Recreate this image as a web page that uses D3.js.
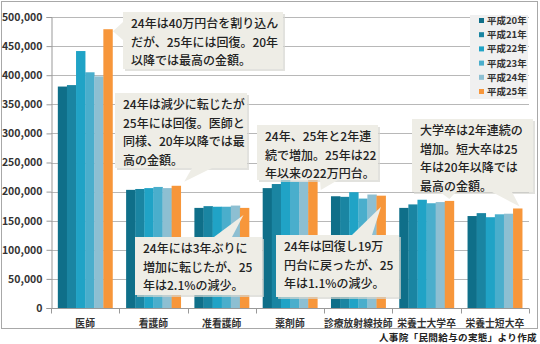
<!DOCTYPE html>
<html><head><meta charset="utf-8">
<script src="https://cdn.jsdelivr.net/npm/d3@7"></script>
<style>
html,body{margin:0;padding:0;background:#fff;}
svg text{font-family:"Noto Sans CJK JP","Noto Sans",sans-serif;}
</style></head>
<body><svg id="c" width="540" height="344"></svg>
<script>
const categories = ["医師","看護師","准看護師","薬剤師","診療放射線技師","栄養士大学卒","栄養士短大卒"];
const seriesNames = ["平成20年","平成21年","平成22年","平成23年","平成24年","平成25年"];
const h20 = [380500, 203000, 172000, 206000, 192000, 172000, 158000];
const h21 = [383000, 204500, 175000, 213000, 191000, 178000, 163000];
const h22 = [441500, 206000, 174000, 222000, 199000, 186000, 156000];
const h23 = [405000, 208000, 174000, 217000, 188000, 180000, 161000];
const h24 = [398000, 206000, 176000, 217000, 195000, 182000, 162000];
const h25 = [479000, 210000, 172000, 227000, 193000, 184000, 171000];
const seriesValues = [h20,h21,h22,h23,h24,h25];
const colors = ["#0f6f89","#1a85a2","#20a3c6","#4aaecc","#8dbfd2","#f7963a"];
const yTicks = [0,50000,100000,150000,200000,250000,300000,350000,400000,450000,500000];
const notes = [
  {lines:["24年は40万円台を割り込ん","だが、25年には回復。20年","以降では最高の金額。"]},
  {lines:["24年は減少に転じたが","25年には回復。医師と","同様、20年以降では最","高の金額。"]},
  {lines:["24年、25年と2年連","続で増加。25年は22","年以来の22万円台。"]},
  {lines:["大学卒は2年連続の","増加。短大卒は25","年は20年以降では","最高の金額。"]},
  {lines:["24年には3年ぶりに","増加に転じたが、25","年は2.1%の減少。"]},
  {lines:["24年は回復し19万","円台に戻ったが、25","年は1.1%の減少。"]}
];
const source = "人事院「民間給与の実態」より作成";

const svg = d3.select("#c");
svg.append("rect").attr("x",1.5).attr("y",1.5).attr("width",536).attr("height",327)
  .attr("fill","#fff").attr("stroke","#a8a8a8");

const pL=51, pR=529, pT=17, pB=308;
const y = d3.scaleLinear().domain([0,500000]).range([pB,pT]);
const x0 = d3.scaleBand().domain(categories).range([pL,pR]).paddingInner(0.2).paddingOuter(0.1);
const x1 = d3.scaleBand().domain(seriesNames).range([0,x0.bandwidth()]);

svg.append("g").selectAll("line").data(yTicks.slice(1)).join("line")
  .attr("x1",pL).attr("x2",pR).attr("y1",d=>Math.round(y(d))+0.5).attr("y2",d=>Math.round(y(d))+0.5)
  .attr("stroke","#b8b8b8").attr("stroke-width",1);

const ya = svg.append("g").attr("transform",`translate(${pL+0.5},0)`)
  .call(d3.axisLeft(y).tickValues(yTicks).tickSize(5).tickFormat(d3.format(",")));
ya.select(".domain").attr("stroke","#999");
ya.selectAll(".tick line").attr("stroke","#999");
ya.selectAll("text").attr("font-size","10.5px").attr("font-weight","bold").attr("fill","#333").attr("dx","-1");

const groups = svg.append("g").selectAll("g").data(categories).join("g")
  .attr("transform",d=>`translate(${x0(d)},0)`);
groups.selectAll("rect").data((c,i)=>seriesNames.map((s,j)=>({s,j,v:seriesValues[j][i]}))).join("rect")
  .attr("x",d=>x1(d.s)).attr("width",x1.bandwidth()+0.3)
  .attr("y",d=>y(d.v)).attr("height",d=>pB-y(d.v))
  .attr("fill",d=>colors[d.j]);

const xa = svg.append("g").attr("transform",`translate(0,${pB+0.5})`);
xa.append("line").attr("x1",pL).attr("x2",pR).attr("stroke","#999");
const step = x0.step();
const bounds = d3.range(categories.length+1).map(i=>pL + i*step);
xa.selectAll("line.t").data(bounds).join("line").attr("class","t")
  .attr("x1",d=>Math.round(d)+0.5).attr("x2",d=>Math.round(d)+0.5).attr("y1",0).attr("y2",5).attr("stroke","#999");
xa.selectAll("text").data(categories).join("text")
  .attr("x",d=>x0(d)+x0.bandwidth()/2).attr("y",18).attr("text-anchor","middle")
  .attr("font-size","9.8px").attr("font-weight","bold").attr("fill","#333").text(d=>d);

const lg = svg.append("g");
lg.append("rect").attr("x",470).attr("y",15).attr("width",58).attr("height",84).attr("fill","#f0f0f0");
seriesNames.forEach((s,i)=>{
  lg.append("rect").attr("x",479).attr("y",18+i*14.2).attr("width",5).attr("height",5).attr("fill",colors[i]);
  lg.append("text").attr("x",487).attr("y",24+i*14.2).attr("font-size","9.5px").attr("font-weight","bold").attr("fill","#333").text(s);
});

function bx(ci,si){ return x0(categories[ci])+x1(seriesNames[si])+x1.bandwidth()/2; }
function by(ci,si){ return y(seriesValues[si][ci]); }
const boxes = [
  {x:123,y:12,w:160,h:57, ptr:[[123,22],[123,40],[bx(0,5)+5,by(0,5)+2]]},
  {x:115,y:93,w:132,h:75, ptr:[[192,168],[212,168],[bx(1,5)+8,by(1,5)-4]]},
  {x:257,y:125,w:121,h:55, ptr:[[320,180],[338,180],[bx(3,5)+8,by(3,5)+14]]},
  {x:412,y:119,w:121,h:73, ptr:[[440,192],[456,192],[bx(5,5),by(5,5)-2], [492,192],[512,192],[bx(6,5)+2,by(6,5)-2]]},
  {x:135,y:237,w:127,h:58, ptr:[[214,237],[232,237],[bx(2,5)-1,by(2,5)+7]]},
  {x:276,y:235,w:123,h:62, ptr:[[352,235],[372,235],[bx(4,5),by(4,5)+11]]}
];
const cg = svg.append("g");
boxes.forEach((b,i)=>{
  const g = cg.append("g");
  g.append("rect").attr("x",b.x+2).attr("y",b.y+2).attr("width",b.w).attr("height",b.h).attr("fill","#d6d6d0").attr("opacity",0.7);
  g.append("rect").attr("x",b.x).attr("y",b.y).attr("width",b.w).attr("height",b.h).attr("fill","#eeede6");
  for(let k=0;k<b.ptr.length;k+=3){
    g.append("polygon").attr("points",b.ptr.slice(k,k+3).map(p=>p.join(",")).join(" ")).attr("fill","#eeede6");
  }
  notes[i].lines.forEach((t,li)=>{
    g.append("text").attr("x",b.x+8).attr("y",b.y+16+li*18.5).attr("font-size","12px").attr("font-weight","500").attr("fill","#222").text(t);
  });
});

svg.append("text").attr("x",537).attr("y",341).attr("text-anchor","end").attr("font-size","9.6px")
  .attr("font-weight","bold").attr("fill","#222").attr("letter-spacing","0.3").text(source);
</script></body></html>
